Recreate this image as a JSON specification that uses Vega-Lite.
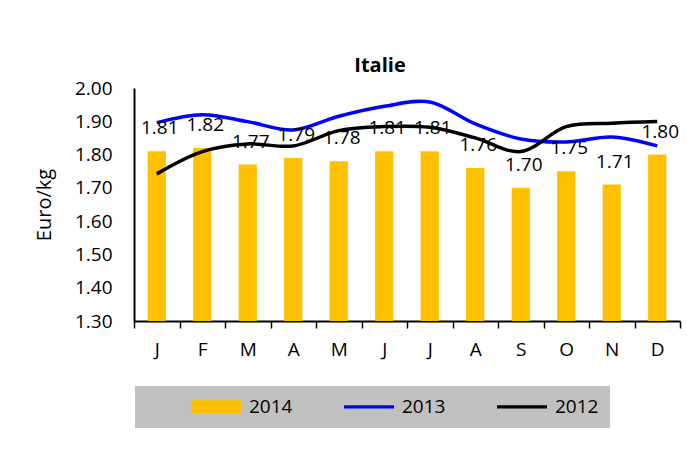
{
  "$schema": "https://vega.github.io/schema/vega-lite/v6.json",
  "width": 546,
  "height": 233,
  "autosize": "none",
  "padding": {"left": 134, "top": 88, "right": 7, "bottom": 143},
  "background": "white",
  "config": {
    "font": "Open Sans",
    "view": {"stroke": null},
    "legend": {"labelLimit": 500},
    "axis": {"labelColor": "black", "titleColor": "black", "domainColor": "black", "tickColor": "black", "domainWidth": 2, "labelFontSize": 19, "titleFontSize": 20, "titleFontWeight": "normal", "grid": false}
  },
  "title": {"text": "Italie", "fontSize": 20, "fontWeight": "bold", "color": "black", "frame": "group", "anchor": "middle", "dx": -27, "offset": 3},
  "data": {
    "values": [
      {"month": "Jan", "year": "2014", "value": 1.81},
      {"month": "Feb", "year": "2014", "value": 1.82},
      {"month": "Mar", "year": "2014", "value": 1.77},
      {"month": "Apr", "year": "2014", "value": 1.79},
      {"month": "May", "year": "2014", "value": 1.78},
      {"month": "Jun", "year": "2014", "value": 1.81},
      {"month": "Jul", "year": "2014", "value": 1.81},
      {"month": "Aug", "year": "2014", "value": 1.76},
      {"month": "Sep", "year": "2014", "value": 1.70},
      {"month": "Oct", "year": "2014", "value": 1.75},
      {"month": "Nov", "year": "2014", "value": 1.71},
      {"month": "Dec", "year": "2014", "value": 1.80},
      {"month": "Jan", "year": "2013", "value": 1.896},
      {"month": "Feb", "year": "2013", "value": 1.92},
      {"month": "Mar", "year": "2013", "value": 1.899},
      {"month": "Apr", "year": "2013", "value": 1.874},
      {"month": "May", "year": "2013", "value": 1.915},
      {"month": "Jun", "year": "2013", "value": 1.945},
      {"month": "Jul", "year": "2013", "value": 1.958},
      {"month": "Aug", "year": "2013", "value": 1.892},
      {"month": "Sep", "year": "2013", "value": 1.847},
      {"month": "Oct", "year": "2013", "value": 1.838},
      {"month": "Nov", "year": "2013", "value": 1.853},
      {"month": "Dec", "year": "2013", "value": 1.826},
      {"month": "Jan", "year": "2012", "value": 1.742},
      {"month": "Feb", "year": "2012", "value": 1.809},
      {"month": "Mar", "year": "2012", "value": 1.832},
      {"month": "Apr", "year": "2012", "value": 1.826},
      {"month": "May", "year": "2012", "value": 1.872},
      {"month": "Jun", "year": "2012", "value": 1.884},
      {"month": "Jul", "year": "2012", "value": 1.882},
      {"month": "Aug", "year": "2012", "value": 1.85},
      {"month": "Sep", "year": "2012", "value": 1.809},
      {"month": "Oct", "year": "2012", "value": 1.884},
      {"month": "Nov", "year": "2012", "value": 1.894},
      {"month": "Dec", "year": "2012", "value": 1.899}
    ]
  },
  "encoding": {
    "x": {
      "field": "month", "type": "ordinal",
      "sort": ["Jan","Feb","Mar","Apr","May","Jun","Jul","Aug","Sep","Oct","Nov","Dec"],
      "scale": {"paddingInner": 0, "paddingOuter": 0},
      "axis": {"title": null, "labelAngle": 0, "tickBand": "extent", "tickSize": 7, "tickWidth": 1.5, "labelPadding": 12, "labelExpr": "substring(datum.label, 0, 1)"}
    },
    "y": {
      "field": "value", "type": "quantitative",
      "scale": {"domain": [1.3, 2.0], "zero": false, "nice": false},
      "axis": {"title": "Euro/kg", "values": [1.3,1.4,1.5,1.6,1.7,1.8,1.9,2.0], "format": ".2f", "ticks": false, "labelPadding": 22, "titlePadding": 20}
    },
    "color": {
      "field": "year", "type": "nominal",
      "scale": {"domain": ["2014","2013","2012"], "range": ["#FFC000","#0000FF","#000000"]},
      "legend": {
        "orient": "none", "legendX": 1, "legendY": 298, "direction": "horizontal",
        "title": "\u00a0", "titleOrient": "left", "titlePadding": 42, "titleFontSize": 19,
        "fillColor": "#C0C0C0", "padding": 11, "columnPadding": 48,
        "labelFontSize": 19, "labelColor": "black", "labelOffset": 42, "labelLimit": 500,
        "symbolSize": 169, "symbolType": "M-1,-1H6.69V1H-1Z",
        "labelExpr": "datum.value == '2012' ? datum.label + '\u00a0\u00a0\u00a0\u00a0\u00a0\u00a0\u00a0\u00a0\u00a0\u00a0\u00a0\u00a0\u00a0\u00a0\u00a0\u00a0\u00a0\u00a0\u00a0\u00a0\u00a0\u00a0' : datum.label",
        "encode": {
          "symbols": {
            "update": {
              "shape": {"signal": "datum.value == '2014' ? 'M-1,-1H6.69V1H-1Z' : 'M-1,-0.25H6.69V0.25H-1Z'"},
              "fill": {"signal": "scale('color', datum.value)"},
              "stroke": {"value": "transparent"},
              "strokeWidth": {"value": 0},
              "opacity": {"value": 1},
              "fillOpacity": {"value": 1}
            }
          }
        }
      }
    }
  },
  "layer": [
    {
      "transform": [{"filter": "datum.year == '2014'"}],
      "mark": {"type": "bar", "width": {"band": 0.4}},
      "encoding": {"y2": {"datum": 1.3}}
    },
    {
      "transform": [{"filter": "datum.year != '2014'"}],
      "mark": {"type": "line", "interpolate": "catmull-rom", "strokeWidth": 3.5}
    },
    {
      "transform": [{"filter": "datum.year == '2014'"}],
      "mark": {"type": "text", "dy": -17, "dx": 3, "baseline": "alphabetic", "fontSize": 19, "color": "black"},
      "encoding": {"text": {"field": "value", "type": "quantitative", "format": ".2f"}, "color": {"value": "black"}}
    }
  ]
}
